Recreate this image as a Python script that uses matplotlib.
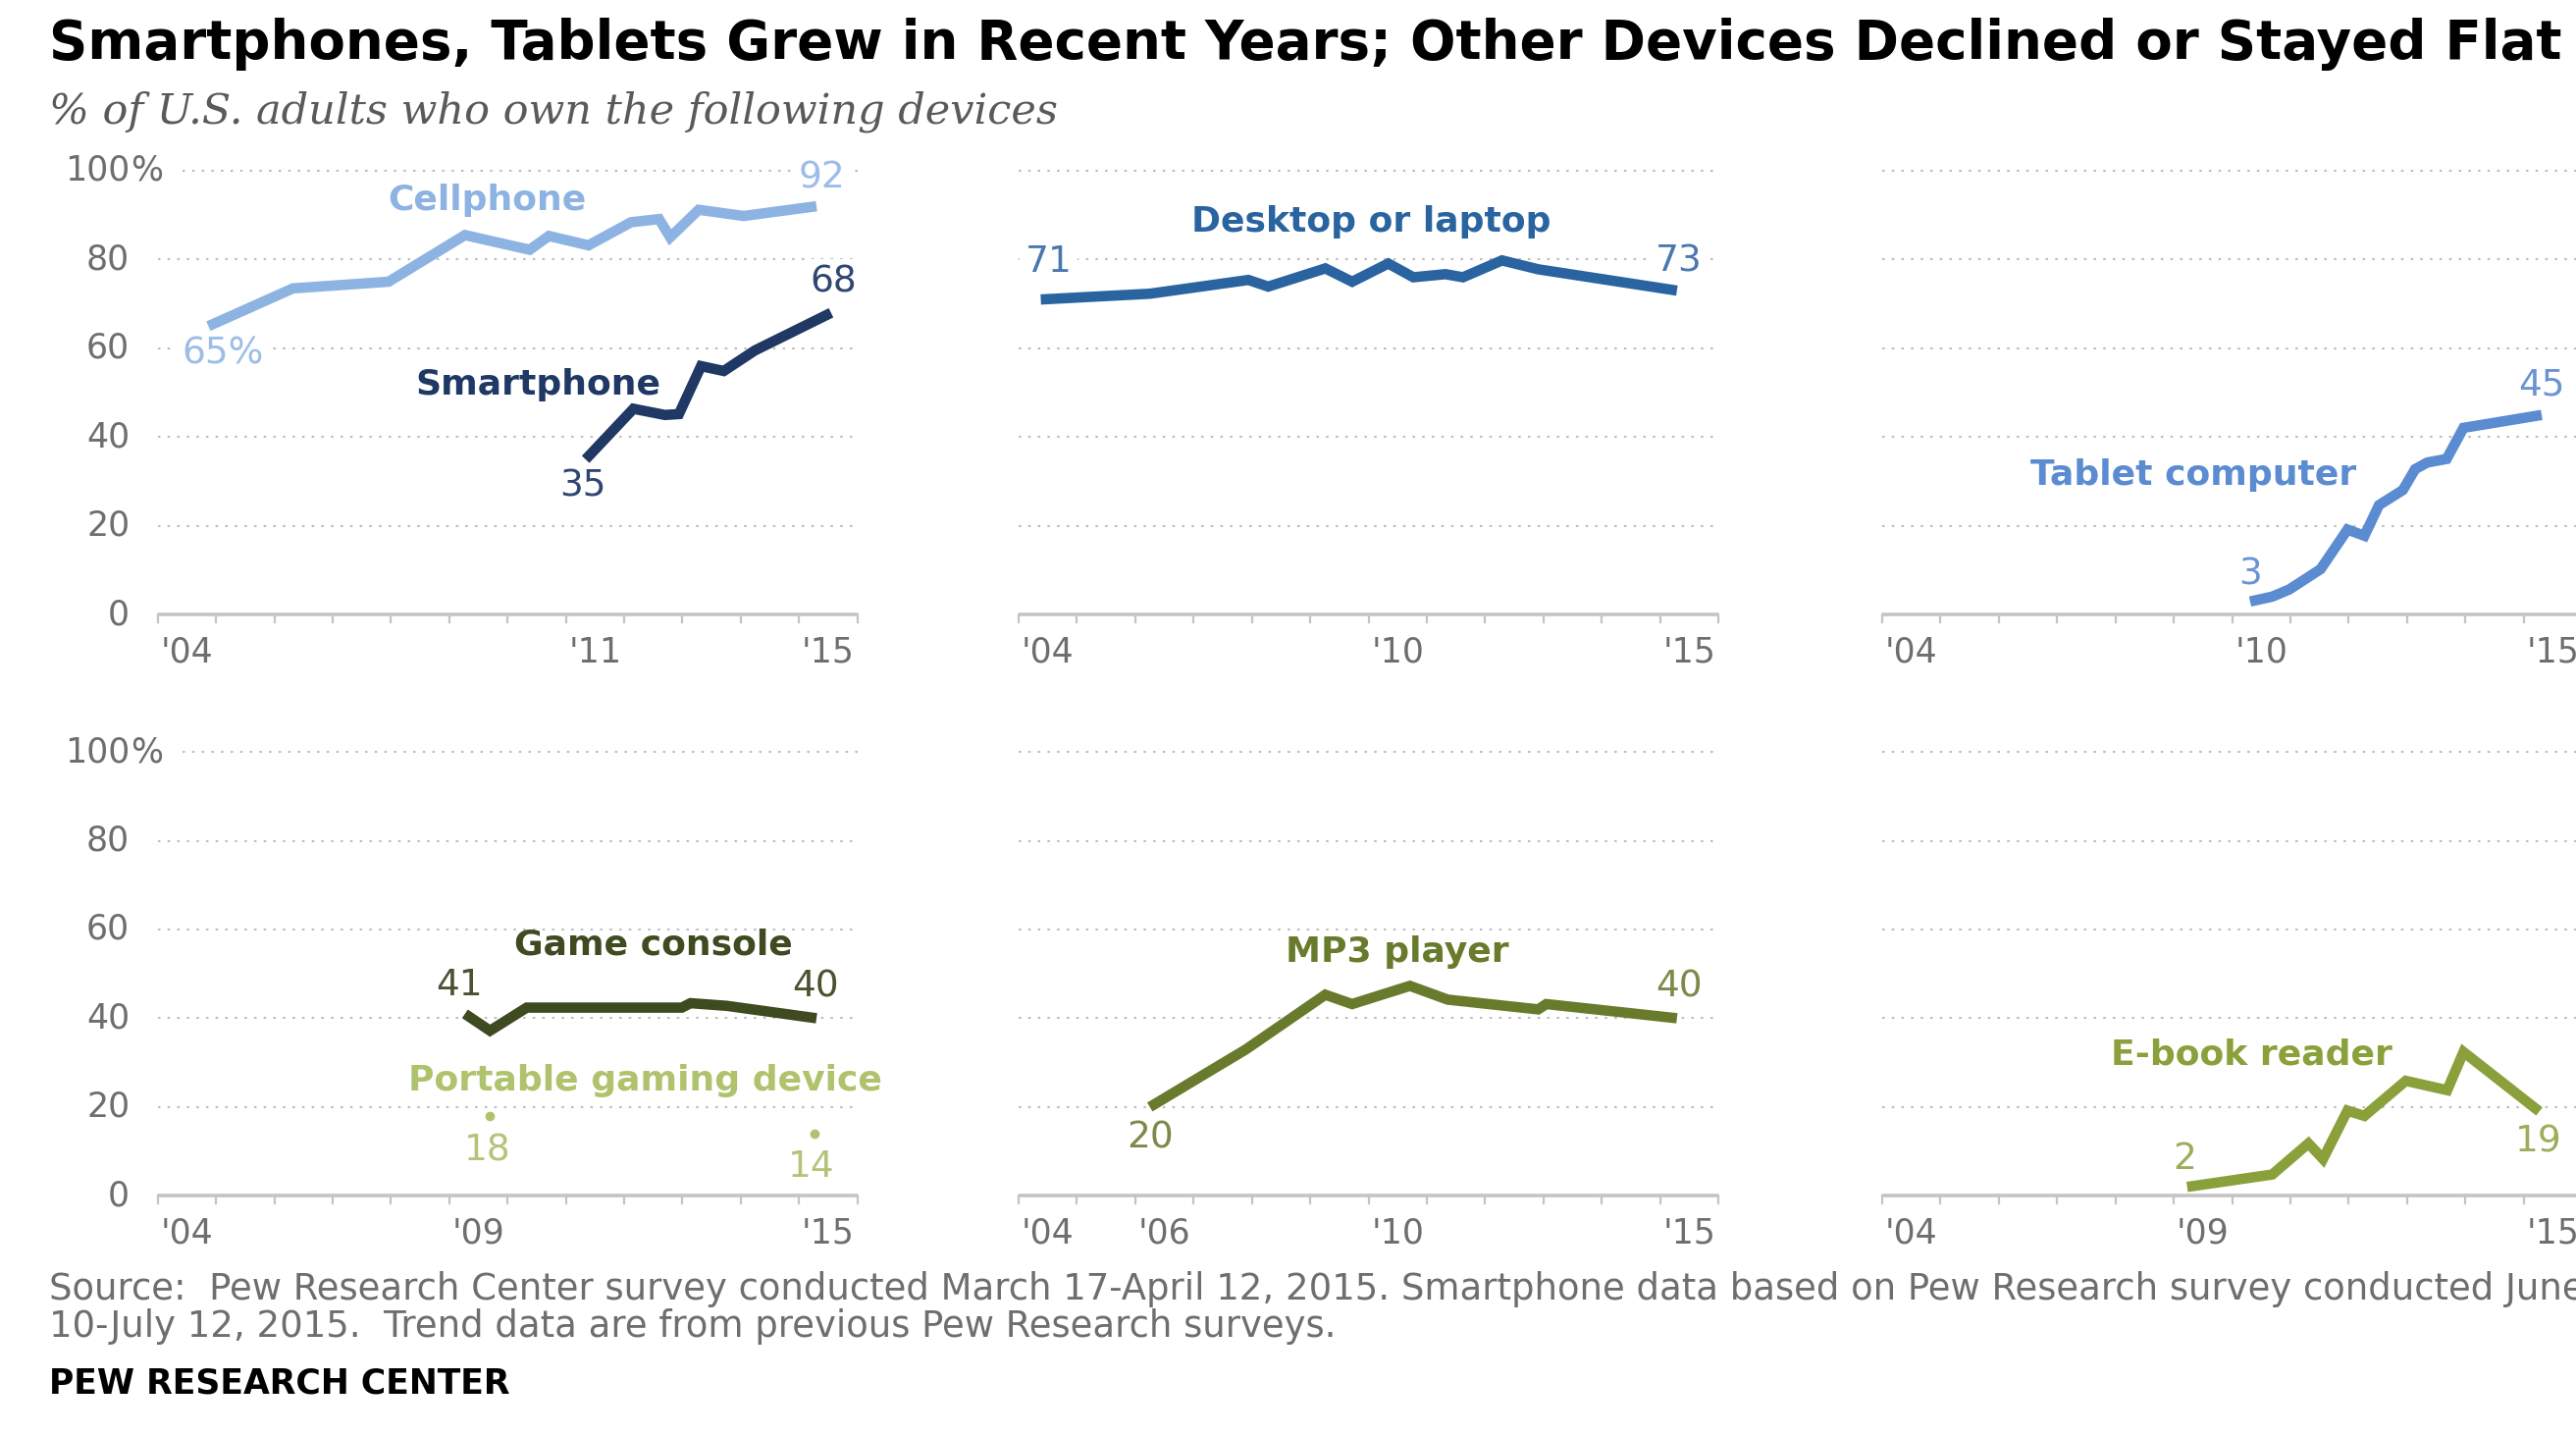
import matplotlib
matplotlib.use("Agg")
import matplotlib.pyplot as plt

# ---------------- data (% of U.S. adults who own each device) ----------------
cell_x = [2004.87, 2006.32, 2007.96, 2009.27, 2010.38, 2010.71, 2011.39, 2012.12,
          2012.60, 2012.79, 2013.28, 2014.05, 2015.30]
cell_y = [65, 73.5, 75, 85.5, 82.2, 85.3, 83.2, 88.4, 89.1, 85.0, 91.2, 89.8, 92]

smart_x = [2011.34, 2012.16, 2012.70, 2012.94, 2013.32, 2013.71, 2014.24, 2015.55]
smart_y = [35, 46.4, 45.0, 45.2, 56.0, 54.9, 59.5, 68]

desk_x = [2004.38, 2006.25, 2007.94, 2008.28, 2009.26, 2009.72, 2010.34, 2010.77,
          2011.32, 2011.62, 2012.29, 2012.91, 2015.29]
desk_y = [71, 72.3, 75.4, 73.9, 78.0, 75.0, 79.1, 76.0, 76.7, 76.0, 79.8, 77.8, 73]

tab_x = [2010.31, 2010.69, 2010.98, 2011.52, 2011.98, 2012.27, 2012.52, 2012.93,
         2013.14, 2013.35, 2013.68, 2013.97, 2015.31]
tab_y = [3, 4.1, 5.7, 10.3, 19.2, 17.8, 24.7, 28.1, 32.8, 34.3, 35.1, 42.1, 45]

game_x = [2009.27, 2009.70, 2010.33, 2012.99, 2013.14, 2013.76, 2015.30]
game_y = [41, 37.2, 42.4, 42.4, 43.4, 42.8, 40]

portable_x = [2009.70, 2015.26]
portable_y = [18, 14]

mp3_x = [2006.25, 2007.90, 2009.26, 2009.72, 2010.71, 2011.36, 2012.91, 2013.05, 2015.29]
mp3_y = [20, 33.0, 45.3, 43.2, 47.3, 44.2, 42.0, 43.2, 40]

ebook_x = [2009.23, 2010.69, 2011.31, 2011.56, 2011.98, 2012.27, 2012.98, 2013.69,
           2013.97, 2015.27]
ebook_y = [2, 4.8, 11.8, 8.3, 19.2, 18.0, 25.9, 23.8, 32.4, 19]

y_ticks = [0, 20, 40, 60, 80, 100]
x_tick_labels = [
    [(2004, "'04"), (2011, "'11"), (2015, "'15")],
    [(2004, "'04"), (2010, "'10"), (2015, "'15")],
    [(2004, "'04"), (2010, "'10"), (2015, "'15")],
    [(2004, "'04"), (2009, "'09"), (2015, "'15")],
    [(2004, "'04"), (2006, "'06"), (2010, "'10"), (2015, "'15")],
    [(2004, "'04"), (2009, "'09"), (2015, "'15")],
]

title = "Smartphones, Tablets Grew in Recent Years; Other Devices Declined or Stayed Flat"
subtitle = "% of U.S. adults who own the following devices"
source1 = ("Source:  Pew Research Center survey conducted March 17-April 12, 2015. "
           "Smartphone data based on Pew Research survey conducted June")
source2 = "10-July 12, 2015.  Trend data are from previous Pew Research surveys."
credit = "PEW RESEARCH CENTER"

# ---------------- styling ----------------
W, H, DPI = 2625, 1462, 100
GRID = "#bdbdbd"
AXIS = "#c4c4c4"
TICK_TXT = "#6e6e6e"
LW = 7.6
TICK_FS = 25
NAME_FS = 26
VALUE_FS = 27

C_CELL, C_CELL_N = "#8db3e2", "#9bbde6"
C_SMART, C_SMART_N = "#1f3864", "#2e4670"
C_DESK, C_DESK_N = "#2a64a0", "#4a78ad"
C_TAB, C_TAB_N = "#5b8bd0", "#6a93d3"
C_GAME, C_GAME_N = "#3e4a1f", "#4a5230"
C_PORT, C_PORT_N = "#aec36c", "#b3c47a"
C_MP3, C_MP3_N = "#687b2c", "#7b8a4a"
C_EBOOK, C_EBOOK_N = "#8aa03a", "#9bae5a"

plt.rcParams["font.family"] = ["DejaVu Sans"]

fig = plt.figure(figsize=(W / DPI, H / DPI), dpi=DPI)
fig.patch.set_facecolor("white")

cols = [(160.7, 873.6), (1038.0, 1751.0), (1918.0, 2631.0)]
rows = [(173.9, 626.4), (766.1, 1218.3)]


def make_axes(col, row):
    l, r = cols[col]
    t, b = rows[row]
    ax = fig.add_axes([l / W, 1 - b / H, (r - l) / W, (b - t) / H])
    ax.set_xlim(2004, 2016)
    ax.set_ylim(0, 100)
    ax.axis("off")
    for v in y_ticks[1:]:
        # the top gridline leaves room for the "%" sign in the labelled column
        x0 = 2004.42 if (col == 0 and v == 100) else 2004
        ax.plot([x0, 2016], [v, v], color=GRID, lw=1.5, ls=(0, (1.2, 3.5)),
                clip_on=False, zorder=1)
    ax.plot([2004, 2016], [0, 0], color=AXIS, lw=2.6, clip_on=False, zorder=2,
            solid_capstyle="butt")
    for yr in range(2004, 2017):
        ax.plot([yr, yr], [0, -1.7], color=AXIS, lw=1.6, clip_on=False, zorder=2)
    if col == 0:
        for v in y_ticks:
            ax.text(2003.52, v, str(v), ha="right", va="center", fontsize=TICK_FS,
                    color=TICK_TXT, clip_on=False)
            if v == 100:
                ax.annotate("%", xy=(2003.52, v), xytext=(1, 0),
                            textcoords="offset points", ha="left", va="center",
                            fontsize=TICK_FS, color=TICK_TXT, annotation_clip=False)
    for yr, lab in x_tick_labels[row * 3 + col]:
        ax.text(yr + 0.5, -8.5, lab, ha="center", va="center", fontsize=TICK_FS,
                color=TICK_TXT, clip_on=False)
    return ax


def series(ax, x, y, color):
    ax.plot(x, y, color=color, lw=LW, solid_joinstyle="miter",
            solid_capstyle="butt", clip_on=False, zorder=4)


def name(ax, x, y, s, color):
    ax.text(x, y, s, ha="center", va="center", fontsize=NAME_FS, fontweight="bold",
            color=color, zorder=5, clip_on=False)


def value(ax, x, y, v, color, suffix=""):
    # white box hides the gridline behind the number, but stays under the lines
    ax.text(x, y, f"{v:g}{suffix}", ha="center", va="center", fontsize=VALUE_FS,
            color=color, zorder=3, clip_on=False,
            bbox=dict(boxstyle="square,pad=0.15", fc="white", ec="none"))


# Cellphone / smartphone
ax = make_axes(0, 0)
series(ax, cell_x, cell_y, C_CELL)
series(ax, smart_x, smart_y, C_SMART)
name(ax, 2009.65, 93.3, "Cellphone", C_CELL)
name(ax, 2010.52, 51.9, "Smartphone", C_SMART)
value(ax, 2005.11, 58.8, cell_y[0], C_CELL_N, "%")
value(ax, 2015.40, 98.4, cell_y[-1], C_CELL_N)
value(ax, 2011.29, 28.9, smart_y[0], C_SMART_N)
value(ax, 2015.59, 74.9, smart_y[-1], C_SMART_N)

# Desktop or laptop
ax = make_axes(1, 0)
series(ax, desk_x, desk_y, C_DESK)
name(ax, 2010.04, 88.4, "Desktop or laptop", C_DESK)
value(ax, 2004.52, 79.5, desk_y[0], C_DESK_N)
value(ax, 2015.33, 79.6, desk_y[-1], C_DESK_N)

# Tablet computer
ax = make_axes(2, 0)
series(ax, tab_x, tab_y, C_TAB)
name(ax, 2009.34, 31.5, "Tablet computer", C_TAB)
value(ax, 2010.31, 9.1, tab_y[0], C_TAB_N)
value(ax, 2015.31, 51.8, tab_y[-1], C_TAB_N)

# Game console / portable gaming device
ax = make_axes(0, 1)
series(ax, game_x, game_y, C_GAME)
ax.plot(portable_x, portable_y, ls="none", marker="o", ms=7, color=C_PORT,
        mec="none", zorder=4)
name(ax, 2012.50, 56.6, "Game console", C_GAME)
name(ax, 2012.36, 25.9, "Portable gaming device", C_PORT)
value(ax, 2009.17, 47.5, game_y[0], C_GAME_N)
value(ax, 2015.28, 47.1, game_y[-1], C_GAME_N)
value(ax, 2009.65, 10.1, portable_y[0], C_PORT_N)
value(ax, 2015.21, 6.5, portable_y[-1], C_PORT_N)

# MP3 player
ax = make_axes(1, 1)
series(ax, mp3_x, mp3_y, C_MP3)
name(ax, 2010.50, 54.9, "MP3 player", C_MP3)
value(ax, 2006.25, 13.0, mp3_y[0], C_MP3_N)
value(ax, 2015.33, 47.1, mp3_y[-1], C_MP3_N)

# E-book reader
ax = make_axes(2, 1)
series(ax, ebook_x, ebook_y, C_EBOOK)
name(ax, 2010.33, 31.8, "E-book reader", C_EBOOK)
value(ax, 2009.19, 8.3, ebook_y[0], C_EBOOK_N)
value(ax, 2015.25, 12.2, ebook_y[-1], C_EBOOK_N)

# ---------------- titles and footer ----------------
renderer = fig.canvas.get_renderer()


def fit(t, target_px):
    w = t.get_window_extent(renderer=renderer).width
    t.set_fontsize(t.get_fontsize() * target_px / w)


t_title = fig.text(50 / W, 1 - 45 / H, title, ha="left", va="center",
                   fontsize=36, fontweight="bold", color="black")
fit(t_title, 2562)

t_sub = fig.text(50 / W, 1 - 114 / H, subtitle, ha="left", va="center",
                 fontsize=26, style="italic", family="DejaVu Serif", color="#5a5a5a")
fit(t_sub, 1030)

t_src2 = fig.text(50 / W, 1 - 1351 / H, source2, ha="left", va="center",
                  fontsize=18, color="#6e6e6e")
fit(t_src2, 1315)
fig.text(50 / W, 1 - 1314 / H, source1, ha="left", va="center",
         fontsize=t_src2.get_fontsize(), color="#6e6e6e")

t_cred = fig.text(50 / W, 1 - 1410 / H, credit, ha="left", va="center",
                  fontsize=18, fontweight="bold", color="black")
fit(t_cred, 470)

fig.savefig("out.png", dpi=DPI, facecolor="white")
